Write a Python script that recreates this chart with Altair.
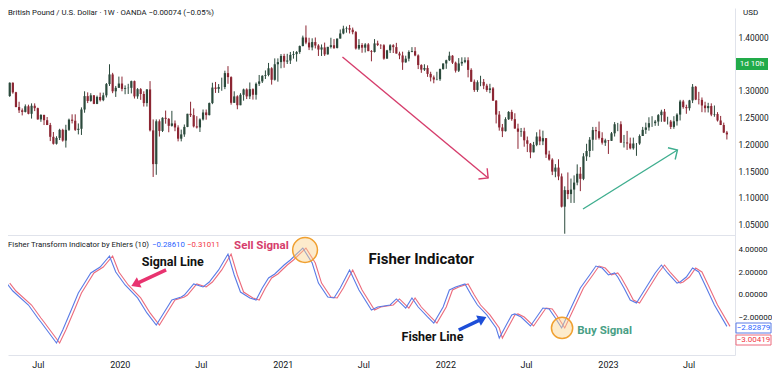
import altair as alt
import pandas as pd
import numpy as np

FONT = "Roboto"
TEXT_COLOR = "#131722"
UP_COLOR = "#2b4a3c"
DOWN_COLOR = "#8c2633"
FISHER_COLOR = "#5a7be6"
SIGNAL_COLOR = "#ec6b7c"
LINE_GRAY = "#e0e3eb"
PINK = "#d63d6c"
TEAL = "#3fae8f"

# ---------------- weekly candles (GBP/USD, 1W), weeks start 2019-04-22 ----------------
START_WEEK = "2019-04-22"
FIRST_OPEN = 1.3043

CLOSE_2019 = [1.2921, 1.3170, 1.2990, 1.2717, 1.2655, 1.2625, 1.2730, 1.2590, 1.2740, 1.2695,
              1.2485, 1.2570, 1.2470, 1.2380, 1.2160, 1.2030, 1.2140, 1.2290, 1.2090, 1.2290,
              1.2480, 1.2460, 1.2290, 1.2310, 1.2670, 1.2920, 1.2830, 1.2935, 1.2775, 1.2905,
              1.2845, 1.2935, 1.3145, 1.3325, 1.3010, 1.3075, 1.3155]
HIGH_2019 = [1.3050, 1.3176, 1.3176, 1.3000, 1.2815, 1.2690, 1.2765, 1.2760, 1.2785, 1.2785,
             1.2705, 1.2580, 1.2560, 1.2530, 1.2420, 1.2250, 1.2170, 1.2310, 1.2310, 1.2385,
             1.2500, 1.2580, 1.2580, 1.2410, 1.2710, 1.3010, 1.2990, 1.2975, 1.2940, 1.2930,
             1.2985, 1.2985, 1.3165, 1.3515, 1.3355, 1.3110, 1.3285]
LOW_2019 = [1.2866, 1.2905, 1.2965, 1.2710, 1.2605, 1.2560, 1.2615, 1.2580, 1.2500, 1.2640,
            1.2480, 1.2440, 1.2380, 1.2380, 1.2080, 1.2015, 1.2015, 1.2100, 1.2070, 1.1959,
            1.2270, 1.2410, 1.2270, 1.2205, 1.2195, 1.2610, 1.2790, 1.2815, 1.2770, 1.2770,
            1.2820, 1.2825, 1.2895, 1.3110, 1.2975, 1.2905, 1.3080]

CLOSE_2020 = [1.3055, 1.3070, 1.3075, 1.3200, 1.2915, 1.3050, 1.2960, 1.2790, 1.3045, 1.2280,
              1.1650, 1.2450, 1.2270, 1.2515, 1.2495, 1.2365, 1.2410, 1.2335, 1.2125, 1.2205,
              1.2345, 1.2590, 1.2565, 1.2355, 1.2335, 1.2485, 1.2615, 1.2565, 1.2790, 1.3080,
              1.3055, 1.3090, 1.3090, 1.3350, 1.3275, 1.2795, 1.2915, 1.2750, 1.2945, 1.3045,
              1.2915, 1.3050, 1.2945, 1.3150, 1.3195, 1.3300, 1.3315, 1.3440, 1.3225, 1.3515,
              1.3555, 1.3670]
HIGH_2020 = [1.3285, 1.3120, 1.3150, 1.3210, 1.3210, 1.3070, 1.3070, 1.3010, 1.3050, 1.3200,
             1.2485, 1.2485, 1.2485, 1.2525, 1.2650, 1.2510, 1.2645, 1.2465, 1.2375, 1.2295,
             1.2390, 1.2590, 1.2815, 1.2690, 1.2545, 1.2505, 1.2670, 1.2670, 1.2800, 1.3170,
             1.3185, 1.3145, 1.3265, 1.3395, 1.3480, 1.3290, 1.3010, 1.2935, 1.2975, 1.3060,
             1.3065, 1.3175, 1.3065, 1.3175, 1.3315, 1.3310, 1.3400, 1.3540, 1.3460, 1.3625,
             1.3625, 1.3705]
LOW_2020 = [1.3010, 1.2955, 1.2960, 1.2970, 1.2875, 1.2870, 1.2850, 1.2725, 1.2725, 1.2260,
            1.1410, 1.1450, 1.2165, 1.2250, 1.2405, 1.2245, 1.2350, 1.2265, 1.2075, 1.2075,
            1.2160, 1.2340, 1.2530, 1.2335, 1.2315, 1.2250, 1.2465, 1.2480, 1.2560, 1.2770,
            1.2980, 1.2980, 1.3020, 1.3050, 1.3150, 1.2760, 1.2805, 1.2675, 1.2775, 1.2835,
            1.2865, 1.2865, 1.2855, 1.2855, 1.3110, 1.3165, 1.3240, 1.3290, 1.3135, 1.3210,
            1.3190, 1.3440]

CLOSE_2021 = [1.3565, 1.3585, 1.3690, 1.3705, 1.3745, 1.3855, 1.4015, 1.3920, 1.3830, 1.3930,
              1.3865, 1.3790, 1.3830, 1.3700, 1.3840, 1.3870, 1.3820, 1.3995, 1.4090, 1.4180,
              1.4190, 1.4160, 1.4115, 1.3810, 1.3875, 1.3825, 1.3885, 1.3760, 1.3745, 1.3905,
              1.3875, 1.3870, 1.3620, 1.3775, 1.3870, 1.3835, 1.3715, 1.3680, 1.3550, 1.3620,
              1.3745, 1.3760, 1.3680, 1.3500, 1.3415, 1.3445, 1.3335, 1.3270, 1.3230, 1.3235,
              1.3425, 1.3530]
HIGH_2021 = [1.3710, 1.3710, 1.3745, 1.3760, 1.3760, 1.3865, 1.4050, 1.4240, 1.4010, 1.4000,
             1.4015, 1.3890, 1.3885, 1.3920, 1.3840, 1.4010, 1.3985, 1.3985, 1.4165, 1.4235,
             1.4220, 1.4250, 1.4200, 1.4135, 1.3985, 1.3910, 1.3910, 1.3910, 1.3780, 1.3985,
             1.3955, 1.3890, 1.3890, 1.3785, 1.3890, 1.3890, 1.3915, 1.3750, 1.3750, 1.3675,
             1.3775, 1.3835, 1.3835, 1.3700, 1.3515, 1.3515, 1.3495, 1.3375, 1.3305, 1.3375,
             1.3435, 1.3530]
LOW_2021 = [1.3450, 1.3520, 1.3520, 1.3620, 1.3565, 1.3710, 1.3850, 1.3890, 1.3780, 1.3775,
            1.3810, 1.3670, 1.3670, 1.3670, 1.3695, 1.3810, 1.3800, 1.3810, 1.4005, 1.4075,
            1.4105, 1.4090, 1.4075, 1.3790, 1.3785, 1.3730, 1.3735, 1.3760, 1.3570, 1.3735,
            1.3855, 1.3800, 1.3600, 1.3640, 1.3725, 1.3725, 1.3715, 1.3610, 1.3410, 1.3545,
            1.3570, 1.3740, 1.3665, 1.3425, 1.3355, 1.3390, 1.3280, 1.3195, 1.3160, 1.3215,
            1.3205, 1.3415]

CLOSE_2022 = [1.3590, 1.3675, 1.3545, 1.3395, 1.3530, 1.3560, 1.3590, 1.3410, 1.3190, 1.3035,
              1.3180, 1.3185, 1.3115, 1.3035, 1.3065, 1.2835, 1.2575, 1.2335, 1.2265, 1.2490,
              1.2625, 1.2490, 1.2315, 1.2255, 1.2265, 1.2095, 1.2030, 1.1870, 1.2010, 1.2165,
              1.2075, 1.2135, 1.1830, 1.1735, 1.1510, 1.1585, 1.1420, 1.0855, 1.1165, 1.1090,
              1.1175, 1.1305, 1.1470, 1.1375, 1.1795, 1.1895, 1.2105, 1.2285, 1.2265, 1.2140,
              1.2050, 1.2095]
HIGH_2022 = [1.3600, 1.3750, 1.3685, 1.3565, 1.3630, 1.3645, 1.3645, 1.3645, 1.3440, 1.3230,
             1.3215, 1.3300, 1.3240, 1.3150, 1.3150, 1.3090, 1.2845, 1.2640, 1.2400, 1.2525,
             1.2640, 1.2665, 1.2600, 1.2405, 1.2325, 1.2330, 1.2165, 1.2045, 1.2065, 1.2245,
             1.2295, 1.2275, 1.2125, 1.1900, 1.1760, 1.1650, 1.1740, 1.1475, 1.1235, 1.1495,
             1.1380, 1.1440, 1.1645, 1.1595, 1.1855, 1.2030, 1.2155, 1.2345, 1.2345, 1.2445,
             1.2245, 1.2125]
LOW_2022 = [1.3430, 1.3575, 1.3520, 1.3360, 1.3370, 1.3485, 1.3535, 1.3270, 1.3185, 1.3000,
            1.3000, 1.3105, 1.3050, 1.3000, 1.2975, 1.2830, 1.2410, 1.2275, 1.2155, 1.2260,
            1.2475, 1.2460, 1.2310, 1.1935, 1.2160, 1.1975, 1.1875, 1.1760, 1.1890, 1.1985,
            1.2005, 1.2005, 1.1765, 1.1715, 1.1445, 1.1405, 1.1350, 1.0840, 1.0350, 1.0995,
            1.0925, 1.0925, 1.1255, 1.1145, 1.1350, 1.1710, 1.1780, 1.1900, 1.2105, 1.2110,
            1.2015, 1.1990]

CLOSE_2023 = [1.2085, 1.2225, 1.2395, 1.2395, 1.2050, 1.2055, 1.2035, 1.1945, 1.2035, 1.2035,
              1.2175, 1.2290, 1.2335, 1.2415, 1.2415, 1.2445, 1.2565, 1.2630, 1.2445, 1.2445,
              1.2345, 1.2450, 1.2575, 1.2820, 1.2715, 1.2695, 1.2840, 1.3095, 1.2855, 1.2850,
              1.2745, 1.2695, 1.2735, 1.2575, 1.2585, 1.2465, 1.2380, 1.2240, 1.2205]
HIGH_2023 = [1.2100, 1.2250, 1.2435, 1.2420, 1.2450, 1.2195, 1.2270, 1.2145, 1.2145, 1.2045,
             1.2205, 1.2345, 1.2425, 1.2525, 1.2545, 1.2475, 1.2585, 1.2665, 1.2680, 1.2535,
             1.2475, 1.2545, 1.2600, 1.2850, 1.2850, 1.2760, 1.2850, 1.3145, 1.3110, 1.3000,
             1.2895, 1.2815, 1.2795, 1.2785, 1.2745, 1.2620, 1.2550, 1.2425, 1.2270]
LOW_2023 = [1.1840, 1.2100, 1.2165, 1.2265, 1.2050, 1.1960, 1.1915, 1.1925, 1.1920, 1.1805,
            1.2010, 1.2185, 1.2215, 1.2275, 1.2345, 1.2365, 1.2365, 1.2440, 1.2455, 1.2390,
            1.2305, 1.2310, 1.2370, 1.2465, 1.2685, 1.2590, 1.2650, 1.2790, 1.2845, 1.2765,
            1.2620, 1.2615, 1.2615, 1.2545, 1.2535, 1.2445, 1.2380, 1.2230, 1.2110]

# ---------------- Fisher transform (10): turning points, week index from START_WEEK ----------------
FISHER_WEEK = [0, 2, 7, 10, 11, 16, 18, 21, 23, 25,
               27, 30, 33, 35, 38, 42, 45, 48, 50, 53,
               56, 57, 60, 63, 65, 68, 71, 73, 75, 78,
               80, 82, 84, 86, 89, 91, 95, 98, 100, 103,
               105, 107, 110, 113, 117, 119, 121, 123, 125, 128,
               130, 132, 135, 137, 140, 142, 144, 147, 149, 151,
               154, 157, 158, 162, 163, 165, 168, 170, 172, 174,
               176, 178, 181, 184, 187, 189, 191, 193, 195, 196,
               198, 200, 202, 205, 208, 210, 212, 215, 216, 218,
               220, 222, 224, 227, 231]
FISHER_VAL = [1.04, 0.33, -0.92, -2.08, -2.44, -4.31, -3.15, -1.19, 0.15, 1.04,
              1.94, 2.47, 3.46, 2.03, 0.87, -0.29, -1.63, -2.71, -1.81, -0.47,
              -0.21, -0.03, 0.96, 0.69, 1.13, 2.21, 3.63, 1.76, 0.24, -0.29,
              -0.47, 0.60, 1.49, 1.85, 2.65, 3.10, 4.17, 2.83, 1.04, -0.21,
              -0.29, 0.60, 2.21, 0.42, -1.37, -1.10, -1.01, -0.92, -0.38, -1.19,
              -0.29, -1.10, -1.99, -2.53, -1.10, 0.42, 0.69, 0.96, -0.03, -0.92,
              -1.81, -2.97, -3.87, -1.81, -1.72, -1.99, -2.79, -1.99, -1.19, -1.28,
              -2.08, -2.97, -1.19, 0.60, 1.76, 2.56, 2.38, 1.76, 1.94, 1.58,
              0.60, -0.47, -0.74, 0.60, 1.94, 2.65, 1.94, 1.04, 1.13, 1.58,
              2.38, 2.03, 0.87, -0.92, -2.83]

PRICE_TICKS = [1.05, 1.10, 1.15, 1.20, 1.25, 1.30, 1.40]
FISHER_TICKS = [-2, 0, 2, 4]
TIME_TICKS = ["2019-07-01", "2020-01-01", "2020-07-01", "2021-01-01", "2021-07-01",
              "2022-01-01", "2022-07-01", "2023-01-01", "2023-07-01"]

# ---------------- tables ----------------
close = CLOSE_2019 + CLOSE_2020 + CLOSE_2021 + CLOSE_2022 + CLOSE_2023
high = HIGH_2019 + HIGH_2020 + HIGH_2021 + HIGH_2022 + HIGH_2023
low = LOW_2019 + LOW_2020 + LOW_2021 + LOW_2022 + LOW_2023
opens = [FIRST_OPEN] + close[:-1]
dates = pd.date_range(START_WEEK, periods=len(close), freq="7D")
candles = pd.DataFrame({
    "date": dates, "open": opens, "close": close,
    "high": [max(h, o, c) for h, o, c in zip(high, opens, close)],
    "low": [min(l, o, c) for l, o, c in zip(low, opens, close)],
})

fdates = pd.Timestamp(START_WEEK) + pd.to_timedelta(np.array(FISHER_WEEK) * 7, unit="D")
fisher_df = pd.DataFrame({"date": fdates, "v": FISHER_VAL})
signal_df = pd.DataFrame({"date": fdates + pd.Timedelta(days=7), "v": FISHER_VAL})

# ---------------- scales & axes ----------------
XS = alt.Scale(domain=[alt.DateTime(year=2019, month=5, date=6, hours=8),
                       alt.DateTime(year=2023, month=10, date=2)], nice=False)
PS = alt.Scale(domain=[0.80848, 1.45659], nice=False, zero=False)
FS = alt.Scale(domain=[-5.384, 25.598], nice=False, zero=False)


def tick_dt(s):
    t = pd.Timestamp(s)
    return alt.DateTime(year=t.year, month=t.month, date=t.day)


X_AXIS = alt.Axis(values=[tick_dt(s) for s in TIME_TICKS],
                  labelExpr="month(datum.value) == 0 ? timeFormat(datum.value, '%Y') : 'Jul'",
                  title=None, grid=False, ticks=False, labelPadding=5,
                  labelFont=FONT, labelFontSize=9, labelColor=TEXT_COLOR,
                  domain=True, domainColor=LINE_GRAY, labelOverlap=False, labelFlush=False)
P_AXIS = alt.Axis(orient="right", values=PRICE_TICKS, format=".5f", title=None,
                  grid=False, ticks=False, labelPadding=3, offset=0,
                  labelFont=FONT, labelFontSize=8.3, labelColor=TEXT_COLOR,
                  domain=True, domainColor=LINE_GRAY, labelAlign="left")
F_AXIS = alt.Axis(orient="right", values=FISHER_TICKS, format=".5f", title=None,
                  grid=False, ticks=False, labelPadding=3, offset=0,
                  labelFont=FONT, labelFontSize=8, labelColor=TEXT_COLOR,
                  domain=False, labelAlign="left")


def X(field="date"):
    return alt.X(f"{field}:T", scale=XS, axis=X_AXIS, title=None)


def PY(field):
    return alt.Y(f"{field}:Q", scale=PS, axis=P_AXIS, title=None)


def FY(field="v"):
    return alt.Y(f"{field}:Q", scale=FS, axis=F_AXIS, title=None)


def px_text(text, x, y, color=TEXT_COLOR, size=8, weight="normal", align="left"):
    return alt.Chart(pd.DataFrame({"t": [text]})).mark_text(
        align=align, baseline="middle", color=color, fontSize=size, fontWeight=weight, font=FONT
    ).encode(x=alt.value(x), y=alt.value(y), text="t:N")


def px_box(x1, x2, y1, y2, fill, stroke=None):
    kw = dict(fill=fill)
    if stroke:
        kw.update(stroke=stroke, strokeWidth=1)
    return alt.Chart(pd.DataFrame({"a": [0]})).mark_rect(**kw).encode(
        x=alt.value(x1), x2=alt.value(x2), y=alt.value(y1), y2=alt.value(y2))


# ---------------- price pane ----------------
color_cond = alt.condition("datum.close >= datum.open", alt.value(UP_COLOR), alt.value(DOWN_COLOR))
base = alt.Chart(candles)
wicks = base.mark_rule(strokeWidth=1, clip=True).encode(
    x=X(), y=PY("low"), y2="high:Q", color=color_cond)
bodies = base.mark_bar(size=2.2, clip=True).encode(
    x=X(), y=PY("open"), y2="close:Q", color=color_cond)

ARROWS = [
    {"d1": "2021-05-15", "p1": 1.3651, "d2": "2022-04-07", "p2": 1.1391, "color": PINK, "angle": 39.3},
    {"d1": "2022-11-06", "p1": 1.0812, "d2": "2023-06-06", "p2": 1.1914, "color": TEAL, "angle": 328.4},
]
CHEVRON = "M-1,-1L0,0L-1,1"
price_layers = [wicks, bodies]
for a in ARROWS:
    df = pd.DataFrame({"date": [pd.Timestamp(a["d1"])], "date2": [pd.Timestamp(a["d2"])],
                       "p": [a["p1"]], "p2": [a["p2"]]})
    price_layers.append(alt.Chart(df).mark_rule(color=a["color"], strokeWidth=1.4).encode(
        x=X(), x2="date2:T", y=PY("p"), y2="p2:Q"))
    head = pd.DataFrame({"date": [pd.Timestamp(a["d2"])], "p": [a["p2"]]})
    price_layers.append(alt.Chart(head).mark_point(
        shape=CHEVRON, filled=False, size=190, strokeWidth=1.4, color=a["color"],
        angle=a["angle"], opacity=1).encode(x=X(), y=PY("p")))

sep = alt.Chart(pd.DataFrame({"p": [1.0317]})).mark_rule(color=LINE_GRAY, strokeWidth=1).encode(
    y=PY("p"))
price_layers.append(sep)
price_layers += [
    px_text("British Pound / U.S. Dollar · 1W · OANDA  −0.00074 (−0.05%)", 0, 5, size=7.8),
    px_text("USD", 735, 5, size=8),
    px_box(728, 760, 50, 62, "#22ab4a"),
    px_text("1d 10h", 744, 56, color="white", size=8, align="center"),
]
price_pane = alt.layer(*price_layers)

# ---------------- fisher pane ----------------
signal_line = alt.Chart(signal_df).mark_line(color=SIGNAL_COLOR, strokeWidth=1.1, clip=True).encode(
    x=X(), y=FY())
fisher_line = alt.Chart(fisher_df).mark_line(color=FISHER_COLOR, strokeWidth=1.1, clip=True).encode(
    x=X(), y=FY())

CIRCLES = [("2021-02-20", 3.99, 616), ("2022-09-20", -2.97, 452)]
circ_df = pd.DataFrame({"date": [pd.Timestamp(c[0]) for c in CIRCLES],
                        "v": [c[1] for c in CIRCLES], "s": [c[2] for c in CIRCLES]})
circles = alt.Chart(circ_df).mark_circle(color="#fbd38d", fillOpacity=0.45, stroke="#f0a030",
                                         strokeWidth=1.5, strokeOpacity=1).encode(
    x=X(), y=FY(), size=alt.Size("s:Q", scale=None, legend=None))

LABELS = [
    ("Signal Line", "2020-04-29", 2.92, "#111111", 12.5, "center"),
    ("Sell Signal", "2020-11-14", 4.35, PINK, 11.5, "center"),
    ("Fisher Indicator", "2021-11-08", 3.19, "#111111", 15, "center"),
    ("Fisher Line", "2021-12-03", -3.78, "#111111", 12.5, "center"),
    ("Buy Signal", "2022-10-24", -3.24, "#4a9f86", 11.5, "left"),
]
fisher_layers = [signal_line, fisher_line, circles]
for t, d, v, c, s, al in LABELS:
    df = pd.DataFrame({"date": [pd.Timestamp(d)], "v": [v], "t": [t]})
    fisher_layers.append(alt.Chart(df).mark_text(
        font=FONT, fontWeight="bold", fontSize=s, color=c, align=al, baseline="middle").encode(
        x=X(), y=FY(), text="t:N"))

FAT_ARROWS = [
    {"d1": "2020-04-14", "v1": 2.21, "d2": "2020-02-10", "v2": 1.04, "tip": "2020-01-27", "vt": 0.78,
     "color": "#e8336f", "angle": 155.4},
    {"d1": "2022-01-31", "v1": -3.15, "d2": "2022-03-20", "v2": -2.25, "tip": "2022-04-03", "vt": -1.99,
     "color": "#1d4ed8", "angle": 335.1},
]
TRI = "M0,0L-1,-0.65L-1,0.65Z"
for a in FAT_ARROWS:
    df = pd.DataFrame({"date": [pd.Timestamp(a["d1"])], "date2": [pd.Timestamp(a["d2"])],
                       "v": [a["v1"]], "v2": [a["v2"]]})
    fisher_layers.append(alt.Chart(df).mark_rule(color=a["color"], strokeWidth=3.5).encode(
        x=X(), x2="date2:T", y=FY(), y2="v2:Q"))
    head = pd.DataFrame({"date": [pd.Timestamp(a["tip"])], "v": [a["vt"]]})
    fisher_layers.append(alt.Chart(head).mark_point(
        shape=TRI, filled=True, size=300, color=a["color"], angle=a["angle"], opacity=1).encode(
        x=X(), y=FY()))

fisher_layers += [
    px_text("Fisher Transform Indicator by Ehlers (10)", 0, 237, size=7.8),
    px_text("−0.28610", 144, 237, color="#2962ff", size=7.8),
    px_text("−0.31011", 179, 237, color="#f23645", size=7.8),
    px_box(728, 763, 315, 325, "white", "#5a7be6"),
    px_text("−2.82879", 745.5, 320, color="#2962ff", size=8, align="center"),
    px_box(728, 763, 327, 337, "white", "#ec6b7c"),
    px_text("−3.00419", 745.5, 332, color="#f23645", size=8, align="center"),
]
fisher_pane = alt.layer(*fisher_layers)

chart = alt.layer(price_pane, fisher_pane).resolve_scale(y="independent").properties(
    width=727, height=347,
    autosize=alt.AutoSizeParams(type="none"),
    padding={"left": 0, "top": 0, "right": 37, "bottom": 14},
    background="white",
).configure_view(stroke=None)

chart.save("out.html", embed_options={"renderer": "svg", "actions": False})
